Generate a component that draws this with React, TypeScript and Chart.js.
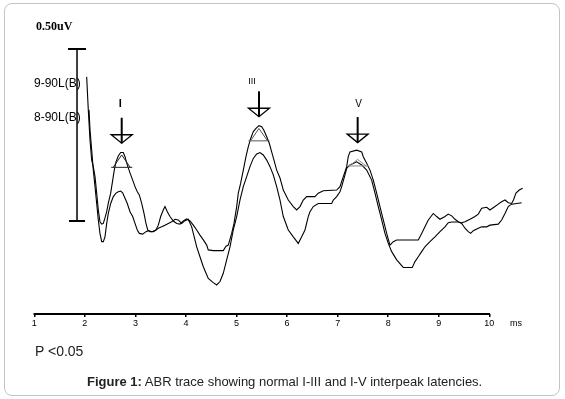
import React, { useEffect, useRef } from "react";
import { Chart, registerables } from "chart.js";

Chart.register(...registerables);

// ---- data (latency in ms, amplitude in µV) ----
const tickValues = [1, 2, 3, 4, 5, 6, 7, 8, 9, 10];

const trace9Latency = [
  2.036, 2.068, 2.102, 2.135, 2.167, 2.201, 2.234, 2.266, 2.299, 2.333, 2.365, 2.398, 2.432, 2.464, 2.511,
  2.551, 2.582, 2.616, 2.661, 2.709, 2.76, 2.794, 2.839, 2.893, 2.946, 2.992, 3.037, 3.077, 3.124, 3.17,
  3.209, 3.243, 3.288, 3.354, 3.407, 3.453, 3.5, 3.551, 3.585, 3.631, 3.684, 3.749, 3.816, 3.882, 3.947,
  4.014, 4.08, 4.145, 4.212, 4.277, 4.343, 4.41, 4.441, 4.54, 4.738, 4.792, 4.837, 4.904, 4.95, 5.003,
  5.035, 5.082, 5.134, 5.187, 5.233, 5.28, 5.332, 5.385, 5.444, 5.498, 5.543, 5.597, 5.648, 5.695, 5.741,
  5.794, 5.86, 5.925, 6.024, 6.123, 6.19, 6.255, 6.32, 6.388, 6.552, 6.617, 6.716, 6.981, 7.046, 7.112,
  7.179, 7.21, 7.244, 7.377, 7.476, 7.507, 7.574, 7.64, 7.705, 7.772, 7.837, 7.903, 7.97, 8.035, 8.1,
  8.168, 8.595, 8.662, 8.727, 8.793, 8.892, 8.959, 9.024, 9.123, 9.188, 9.256, 9.321, 9.386, 9.453, 9.519,
  9.584, 9.631, 9.683, 9.782, 9.849, 9.948, 10.013, 10.177, 10.244, 10.31, 10.375, 10.442, 10.541, 10.64,
];
const trace9Amplitude = [
  0.419, 0.323, 0.235, 0.177, 0.158, 0.129, 0.081, 0.032, -0.002, -0.009, -0.007, 0.009, 0.027, 0.052, 0.081,
  0.119, 0.148, 0.172, 0.189, 0.199, 0.199, 0.187, 0.163, 0.14, 0.119, 0.1, 0.085, 0.076, 0.051, 0.022,
  -0.007, -0.026, -0.031, -0.031, -0.026, -0.012, 0.013, 0.032, 0.042, 0.027, 0.013, 0.0, -0.007, -0.009, 0.0,
  0.006, 0.0, -0.012, -0.026, -0.041, -0.055, -0.07, -0.084, -0.086, -0.086, -0.073, -0.07, -0.036, -0.007, 0.042,
  0.081, 0.11, 0.148, 0.187, 0.216, 0.24, 0.26, 0.269, 0.277, 0.274, 0.263, 0.245, 0.226, 0.201, 0.177,
  0.148, 0.125, 0.09, 0.061, 0.042, 0.032, 0.042, 0.061, 0.071, 0.071, 0.081, 0.088, 0.09, 0.1, 0.129,
  0.158, 0.187, 0.201, 0.206, 0.201, 0.187, 0.168, 0.148, 0.119, 0.081, 0.042, 0.003, -0.036, -0.07, -0.06,
  -0.055, -0.055, -0.036, -0.017, 0.003, 0.022, 0.013, 0.005, 0.013, 0.02, 0.015, 0.005, -0.002, -0.007, -0.021,
  -0.031, -0.036, -0.028, -0.021, -0.017, -0.017, -0.012, -0.009, 0.003, 0.022, 0.042, 0.049, 0.051, 0.053,
];

const trace8Latency = [
  2.082, 2.102, 2.135, 2.167, 2.201, 2.234, 2.266, 2.299, 2.333, 2.365, 2.398, 2.432, 2.464, 2.511, 2.563,
  2.616, 2.661, 2.709, 2.748, 2.794, 2.839, 2.893, 2.946, 2.992, 3.037, 3.077, 3.144, 3.209, 3.255, 3.322,
  3.387, 3.453, 3.52, 3.585, 3.65, 3.718, 3.783, 3.848, 3.915, 3.981, 4.046, 4.113, 4.212, 4.277, 4.343,
  4.441, 4.54, 4.608, 4.673, 4.738, 4.805, 4.871, 4.936, 5.003, 5.068, 5.134, 5.201, 5.266, 5.332, 5.399,
  5.464, 5.529, 5.597, 5.662, 5.727, 5.794, 5.86, 5.925, 6.024, 6.123, 6.222, 6.289, 6.354, 6.419, 6.453,
  6.518, 6.617, 6.882, 6.914, 6.981, 7.046, 7.08, 7.145, 7.179, 7.244, 7.377, 7.476, 7.574, 7.673, 7.739,
  7.804, 7.871, 7.936, 8.002, 8.069, 8.168, 8.298, 8.476, 8.53, 8.595, 8.662, 8.727, 8.826, 8.925, 9.024,
  9.123, 9.188, 9.256, 9.386, 9.453, 9.519, 9.618, 9.716, 9.782, 9.849, 9.948, 10.013, 10.112, 10.177, 10.244,
  10.31, 10.375, 10.442, 10.478, 10.527, 10.593, 10.66,
];
const trace8Amplitude = [
  0.323, 0.265, 0.206, 0.148, 0.1, 0.051, 0.003, -0.036, -0.06, -0.06, -0.046, -0.007, 0.022, 0.051, 0.071,
  0.081, 0.085, 0.087, 0.082, 0.066, 0.051, 0.027, 0.013, -0.007, -0.026, -0.036, -0.038, -0.031, -0.028, -0.031,
  -0.028, -0.021, -0.017, -0.012, -0.007, -0.002, 0.005, 0.003, -0.007, 0.001, 0.005, -0.017, -0.075, -0.104, -0.133,
  -0.167, -0.179, -0.186, -0.176, -0.152, -0.113, -0.075, -0.026, 0.013, 0.061, 0.1, 0.129, 0.158, 0.182, 0.195,
  0.199, 0.192, 0.177, 0.158, 0.134, 0.1, 0.061, 0.013, -0.026, -0.046, -0.065, -0.046, -0.026, 0.013, 0.027,
  0.042, 0.051, 0.051, 0.061, 0.071, 0.085, 0.1, 0.134, 0.153, 0.163, 0.172, 0.163, 0.148, 0.119, 0.081,
  0.042, 0.003, -0.036, -0.065, -0.089, -0.113, -0.135, -0.135, -0.118, -0.104, -0.089, -0.075, -0.06, -0.046, -0.031,
  -0.017, -0.005, -0.003, -0.003, -0.005, -0.002, 0.005, 0.013, 0.02, 0.037, 0.04, 0.032, 0.042, 0.049, 0.056,
  0.061, 0.053, 0.051, 0.061, 0.081, 0.09, 0.095,
];

// peaks I, III, V
const peakLabels = ["I", "III", "V"];
const peakLatency = [2.729, 5.444, 7.396];
const arrowTipAmplitude = [0.226, 0.303, 0.228];
const markerApexAmplitude = [0.192, 0.269, 0.179];
const markerBaseAmplitude = [0.156, 0.233, 0.16];

// calibration bar
const scaleBarLatency = 1.845;
const scaleBarAmplitude = [0, 0.5];

const X_MIN = 1;
const X_MAX = 10.7;
const Y_MIN = -0.2703;
const Y_MAX = 0.5;

const SANS = '"Liberation Sans", Arial, sans-serif';
const SERIF = '"Liberation Serif", "Times New Roman", serif';

// label styles for the peak arrows
const labelStyle = [
  { font: `bold 11px ${SANS}`, dx: -1.5, dy: -14 },
  { font: `9px ${SANS}`, dx: -7, dy: -10 },
  { font: `10px ${SANS}`, dx: 1, dy: -13 },
];
const markerColors = ["#222", "#555", "#888"];

const overlayPlugin = {
  id: "abrOverlay",
  afterDatasetsDraw(chart: any) {
    const { ctx, chartArea, scales } = chart;
    const xs = scales.x;
    const ys = scales.y;
    ctx.save();

    // x axis line (1 to 10 ms)
    ctx.strokeStyle = "#000";
    ctx.lineWidth = 2;
    ctx.beginPath();
    ctx.moveTo(xs.getPixelForValue(tickValues[0]) - 0.75, chartArea.bottom);
    ctx.lineTo(xs.getPixelForValue(tickValues[tickValues.length - 1]) + 0.75, chartArea.bottom);
    ctx.stroke();

    // calibration bar
    const sx = xs.getPixelForValue(scaleBarLatency);
    const sy0 = ys.getPixelForValue(scaleBarAmplitude[0]);
    const sy1 = ys.getPixelForValue(scaleBarAmplitude[1]);
    ctx.lineWidth = 1.5;
    ctx.beginPath();
    ctx.moveTo(sx, sy0);
    ctx.lineTo(sx, sy1);
    ctx.stroke();
    ctx.lineWidth = 2;
    ctx.beginPath();
    ctx.moveTo(sx - 9, sy1);
    ctx.lineTo(sx + 9, sy1);
    ctx.moveTo(sx - 8, sy0);
    ctx.lineTo(sx + 8, sy0);
    ctx.stroke();

    for (let i = 0; i < peakLabels.length; i++) {
      const px = xs.getPixelForValue(peakLatency[i]);
      // peak marker triangle
      const ay = ys.getPixelForValue(markerApexAmplitude[i]);
      const by = ys.getPixelForValue(markerBaseAmplitude[i]);
      ctx.strokeStyle = markerColors[i];
      ctx.lineWidth = 1;
      ctx.beginPath();
      ctx.moveTo(px, ay);
      ctx.lineTo(px - 8.5, by);
      ctx.moveTo(px, ay);
      ctx.lineTo(px + 8.5, by);
      ctx.moveTo(px - 10.5, by);
      ctx.lineTo(px + 10.5, by);
      ctx.stroke();

      // arrow
      const tip = ys.getPixelForValue(arrowTipAmplitude[i]);
      const triTop = tip - 8.5;
      const stemTop = tip - 25.5;
      ctx.strokeStyle = "#000";
      ctx.lineWidth = 1.3;
      ctx.beginPath();
      ctx.moveTo(px - 10.5, triTop);
      ctx.lineTo(px + 10.5, triTop);
      ctx.lineTo(px, tip);
      ctx.closePath();
      ctx.stroke();
      ctx.lineWidth = 2;
      ctx.beginPath();
      ctx.moveTo(px, tip);
      ctx.lineTo(px, stemTop);
      ctx.stroke();

      // label
      const st = labelStyle[i];
      ctx.fillStyle = "#000";
      ctx.font = st.font;
      ctx.textAlign = "center";
      ctx.textBaseline = "middle";
      ctx.fillText(peakLabels[i], px + st.dx, stemTop + st.dy);
    }
    ctx.restore();
  },
};

function AbrChart() {
  const canvasRef = useRef<HTMLCanvasElement | null>(null);

  useEffect(() => {
    const canvas = canvasRef.current;
    if (!canvas) return;
    const toPoints = (xs: number[], ys: number[]) => xs.map((x, i) => ({ x, y: ys[i] }));
    const chart = new Chart(canvas, {
      type: "line",
      data: {
        datasets: [
          {
            label: "9-90L(B)",
            data: toPoints(trace9Latency, trace9Amplitude),
            borderColor: "#000",
            borderWidth: 1.1,
            pointRadius: 0,
            tension: 0,
            fill: false,
          },
          {
            label: "8-90L(B)",
            data: toPoints(trace8Latency, trace8Amplitude),
            borderColor: "#000",
            borderWidth: 1.1,
            pointRadius: 0,
            tension: 0,
            fill: false,
          },
        ],
      },
      options: {
        animation: false,
        responsive: false,
        devicePixelRatio: 1,
        parsing: true,
        layout: { padding: { left: 34.3, right: 40.3, top: 49, bottom: 69.2 } },
        plugins: { legend: { display: false }, tooltip: { enabled: false }, title: { display: false } },
        scales: {
          x: {
            type: "linear",
            min: X_MIN,
            max: X_MAX,
            border: { display: false },
            grid: {
              display: true,
              drawOnChartArea: false,
              drawTicks: true,
              tickLength: 3,
              color: "#000",
              lineWidth: 1.5,
            },
            ticks: {
              stepSize: 1,
              includeBounds: false,
              autoSkip: false,
              maxRotation: 0,
              padding: 1,
              color: "#000",
              font: { family: SANS, size: 9 },
              callback: (v: any) => String(v),
            },
          },
          y: { type: "linear", display: false, min: Y_MIN, max: Y_MAX },
        },
      },
      plugins: [overlayPlugin],
    });
    return () => chart.destroy();
  }, []);

  return <canvas ref={canvasRef} width={565} height={399} style={{ position: "absolute", left: 0, top: 0 }} />;
}

export default function App() {
  const abs = (left: number, top: number, extra: React.CSSProperties = {}): React.CSSProperties => ({
    position: "absolute",
    left,
    top,
    whiteSpace: "nowrap",
    lineHeight: "normal",
    color: "#000",
    ...extra,
  });
  return (
    <div style={{ position: "fixed", left: 0, top: 0, width: 565, height: 399, background: "#fff", overflow: "hidden" }}>
      <div
        style={{
          position: "absolute",
          left: 4,
          top: 3,
          width: 556,
          height: 393,
          border: "1px solid #c4c4c4",
          borderRadius: 8,
          boxSizing: "border-box",
        }}
      />
      <AbrChart />
      <div style={abs(36, 18.6, { fontFamily: SERIF, fontWeight: "bold", fontSize: 12 })}>0.50uV</div>
      <div style={abs(34, 76.4, { fontFamily: SANS, fontSize: 12 })}>9-90L(B)</div>
      <div style={abs(34, 109.8, { fontFamily: SANS, fontSize: 12 })}>8-90L(B)</div>
      <div style={abs(510, 317.5, { fontFamily: SANS, fontSize: 9 })}>ms</div>
      <div style={abs(35, 342.5, { fontFamily: SANS, fontSize: 14, color: "#222" })}>P &lt;0.05</div>
      <div style={abs(87, 374, { fontFamily: SANS, fontSize: 13, color: "#222" })}>
        <b>Figure 1:</b> ABR trace showing normal I-III and I-V interpeak latencies.
      </div>
    </div>
  );
}
